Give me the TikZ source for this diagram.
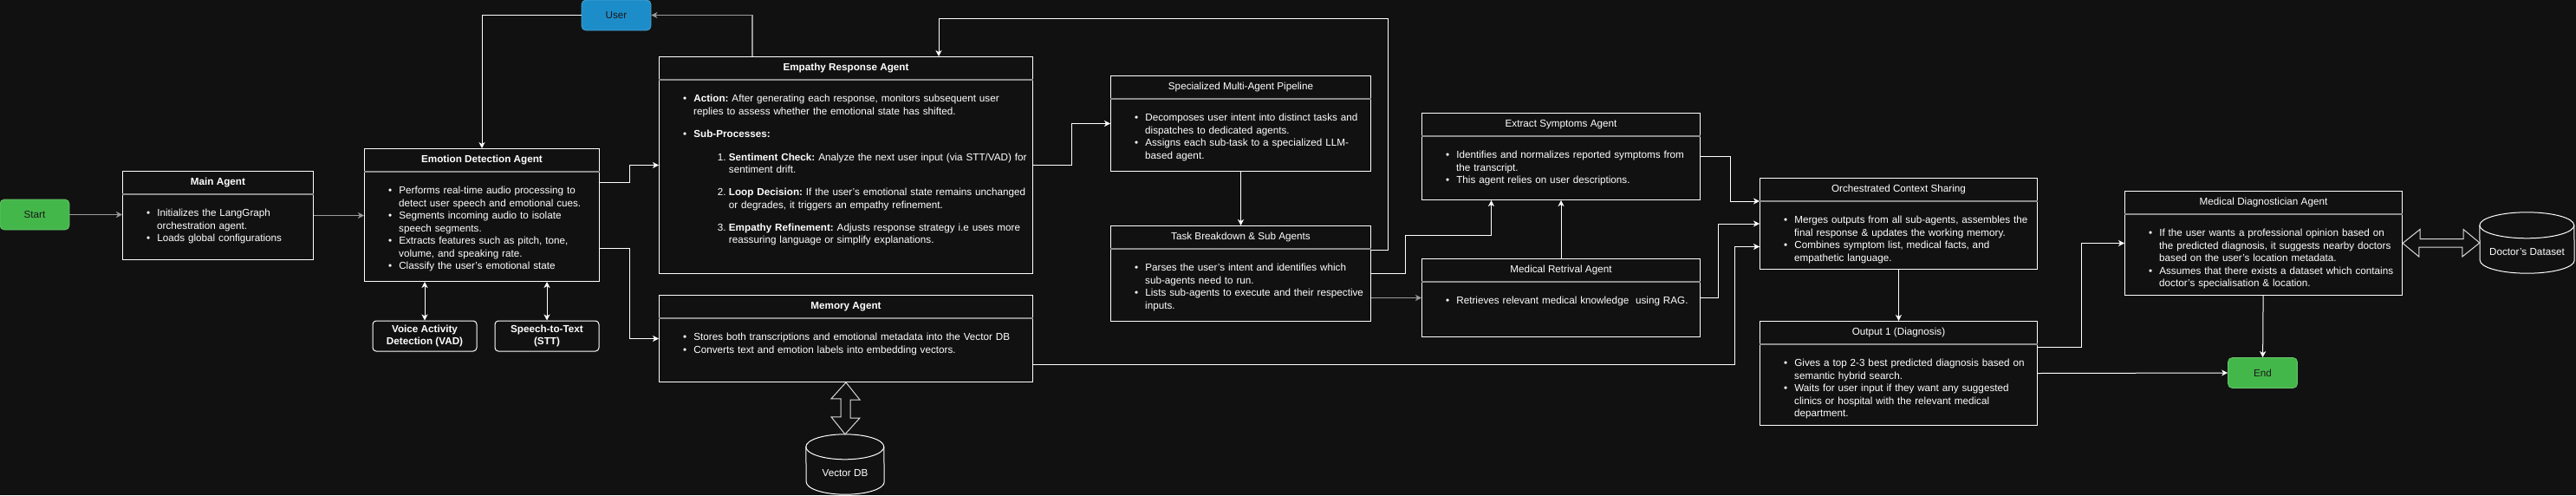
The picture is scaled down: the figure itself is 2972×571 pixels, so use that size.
\documentclass[tikz,border=0pt]{standalone}
\usepackage{fontspec}
\setmainfont{Liberation Sans}
\usepackage{enumitem}
\usepackage{tikz}
\usetikzlibrary{arrows.meta}
\usetikzlibrary{calc}

\frenchspacing

\definecolor{bg}{HTML}{111111}
\definecolor{startgreen}{HTML}{44B74A}
\definecolor{usersky}{HTML}{1D8DC9}
\definecolor{darktext}{HTML}{1A1A1A}
\definecolor{sepgray}{HTML}{8C8C8C}
\definecolor{linkgray}{HTML}{9A9A9A}

\setlist[itemize]{label=\textbullet, leftmargin=12pt, labelwidth=4pt, labelsep=8pt, align=left,
  itemsep=0pt, topsep=0pt, parsep=0pt, partopsep=0pt}

\tikzset{
  agentbox/.style={draw=white, line width=1pt, fill=bg, inner sep=0pt},
  headline/.style={draw=sepgray, line width=2pt},
  agenttitle/.style={text=white, inner sep=0pt, font=\fontsize{11.7}{14.5}\selectfont},
  agentbody/.style={anchor=north west, inner sep=0pt, align=left, text=white,
    font=\fontsize{11.7}{14.5}\selectfont},
  terminal/.style={rounded corners=5pt, line width=0.8pt, minimum width=80pt, minimum height=35pt,
    inner sep=0pt, text=darktext, font=\fontsize{11.7}{14.5}\selectfont},
  toolbox/.style={draw=white, line width=1pt, rounded corners=4pt, minimum width=120pt,
    minimum height=35pt, inner sep=0pt, align=center, text=white,
    font=\fontsize{11.7}{14.5}\selectfont\bfseries},
  dbbox/.style={inner sep=0pt},
  dbline/.style={draw=white, line width=1pt, fill=bg},
  dbtext/.style={text=white, inner sep=0pt, font=\fontsize{11.7}{14.5}\selectfont},
  link/.style={draw=white, line width=1pt, ->},
  glink/.style={draw=linkgray, line width=1.5pt, ->},
  biarrow/.style={draw=white, line width=1pt, <->},
  blockline/.style={draw=white!85!black, line width=1pt, fill=bg, line join=miter}
}

% agent box: name, top left, width, height, title, body
\newcommand{\agent}[6]{%
  \node[agentbox, minimum width=#3pt, minimum height=#4pt, anchor=north west] (#1) at (#2) {};
  \draw[headline] ([yshift=-27pt]#1.north west) -- ([yshift=-27pt]#1.north east);
  \node[agenttitle] (#1-title) at ([yshift=-13.5pt]#1.north) {#5};
  \node[agentbody, text width=#3pt] (#1-body) at ([xshift=28pt,yshift=-38pt]#1.north west) {#6};
}

% cylinder outline: node name, x radius, y radius
\newcommand{\dbshape}[3]{%
  \draw[dbline] ([yshift=-#3pt]#1.north west)
    arc[start angle=180, end angle=0, x radius=#2pt, y radius=#3pt]
    -- ([yshift=#3pt]#1.south east)
    arc[start angle=0, end angle=-180, x radius=#2pt, y radius=#3pt] -- cycle;
  \draw[dbline, fill=none] ([yshift=-#3pt]#1.north west)
    arc[start angle=180, end angle=360, x radius=#2pt, y radius=#3pt];
}

\begin{document}
\begin{tikzpicture}[x=1pt, y=-1pt, >={Stealth[length=7pt,width=7pt,inset=2pt]}]

	\useasboundingbox (0,0) rectangle (2972,571);
	\fill[bg] (0,0) rectangle (2972,571);

	% Terminals
	\node[terminal, fill=startgreen, draw=startgreen!80!white] (start) at (40,247.5) {Start};
	\node[terminal, fill=usersky, draw=usersky!80!white] (user) at (711,17.5) {User};
	\node[terminal, fill=startgreen, draw=startgreen!80!white] (endn) at (2610.5,430) {End};

	% Main and emotion stage
	\agent{main}{141,197}{220}{102}{\textbf{Main Agent}}{%
		\begin{itemize}
			\item Initializes the LangGraph\\orchestration agent.
			\item Loads global configurations
	\end{itemize}}

	\agent{emo}{420,171}{271}{153}{\textbf{Emotion Detection Agent}}{%
		\begin{itemize}
			\item Performs real-time audio processing to\\detect user speech and emotional cues.
			\item Segments incoming audio to isolate\\speech segments.
			\item Extracts features such as pitch, tone,\\volume, and speaking rate.
			\item Classify the user's emotional state
	\end{itemize}}

	\node[toolbox] (vad) at (490,387.5) {Voice Activity\\Detection (VAD)};
	\node[toolbox] (stt) at (631,387.5) {Speech-to-Text\\(STT)};

	% Empathy and memory
	\agent{emp}{760,65}{431}{250}{\textbf{Empathy Response Agent}}{%
		\begin{itemize}[itemsep=11.5pt]
			\item \textbf{Action:} After generating each response, monitors subsequent user\\replies to assess whether the emotional state has shifted.
			\item \textbf{Sub-Processes:}
			\begin{enumerate}[label=\arabic*., leftmargin=40.7pt, labelwidth=10pt, labelsep=3.2pt,
				align=right, topsep=12.5pt, itemsep=11.5pt, parsep=0pt, partopsep=0pt]
				\item \textbf{Sentiment Check:} Analyze the next user input (via STT/VAD) for\\sentiment drift.
				\item \textbf{Loop Decision:} If the user's emotional state remains unchanged\\or degrades, it triggers an empathy refinement.
				\item \textbf{Empathy Refinement:} Adjusts response strategy i.e uses more\\reassuring language or simplify explanations.
			\end{enumerate}
	\end{itemize}}

	\agent{mem}{760,340}{431}{100}{\textbf{Memory Agent}}{%
		\begin{itemize}
			\item Stores both transcriptions and emotional metadata into the Vector DB
			\item Converts text and emotion labels into embedding vectors.
	\end{itemize}}

	\node[dbbox, minimum width=90pt, minimum height=69pt] (vdb) at (975,535.5) {};
	\dbshape{vdb}{45}{14.5}
	\node[dbtext] (vdb-label) at ([yshift=-10pt]vdb.center) {Vector DB};

	% Pipeline
	\agent{spec}{1281,87}{300}{110}{Specialized Multi-Agent Pipeline}{%
		\begin{itemize}
			\item Decomposes user intent into distinct tasks and\\dispatches to dedicated agents.
			\item Assigns each sub-task to a specialized LLM-\\based agent.
	\end{itemize}}

	\agent{task}{1281,260}{300}{110}{Task Breakdown \& Sub Agents}{%
		\begin{itemize}
			\item Parses the user’s intent and identifies which\\sub-agents need to run.
			\item Lists sub-agents to execute and their respective\\inputs.
	\end{itemize}}

	\agent{ext}{1640,130}{321}{100}{Extract Symptoms Agent}{%
		\begin{itemize}
			\item Identifies and normalizes reported symptoms from\\the transcript.
			\item This agent relies on user descriptions.
	\end{itemize}}

	\agent{med}{1640,298}{321}{90}{Medical Retrival Agent}{%
		\begin{itemize}
			\item Retrieves relevant medical knowledge\ \ using RAG.
	\end{itemize}}

	% Output stage
	\agent{orch}{2030,205}{320}{105}{Orchestrated Context Sharing}{%
		\begin{itemize}
			\item Merges outputs from all sub-agents, assembles the\\final response \& updates the working memory.
			\item Combines symptom list, medical facts, and\\empathetic language.
	\end{itemize}}

	\agent{out}{2030,370}{320}{120}{Output 1 (Diagnosis)}{%
		\begin{itemize}
			\item Gives a top 2-3 best predicted diagnosis based on\\semantic hybrid search.
			\item Waits for user input if they want any suggested\\clinics or hospital with the relevant medical\\department.
	\end{itemize}}

	\agent{diag}{2451,220}{320}{120}{Medical Diagnostician Agent}{%
		\begin{itemize}
			\item If the user wants a professional opinion based on\\the predicted diagnosis, it suggests nearby doctors\\based on the user's location metadata.
			\item Assumes that there exists a dataset which contains\\doctor's specialisation \& location.
	\end{itemize}}

	\node[dbbox, minimum width=109pt, minimum height=70pt] (ddb) at (2915.5,280) {};
	\dbshape{ddb}{54.5}{15}
	\node[dbtext] (ddb-label) at ([yshift=-11pt]ddb.center) {Doctor's Dataset};

	% Connectors
	\draw[glink] (start.east) -- (start.east -| main.west);
	\draw[glink] (main.east) -- (main.east -| emo.west);
	\draw[link] (user.west) -| (emo.north);
	\draw[glink] ([xshift=108pt]emp.north west) |- (user.east);
	\draw[link] ([yshift=37.5pt]emo.east) -- ++(34,0) |- (emp.west);
	\draw[link] ([yshift=-38.5pt]emo.east) -- ++(34,0) |- (mem.west);
	\draw[biarrow] (vad.north) -- (vad.north |- emo.south);
	\draw[biarrow] (stt.north) -- (stt.north |- emo.south);

	\draw[link] (emp.east) -- ++(44,0) |- (spec.west);
	\draw[link] (spec) -- (task);
	\coordinate (loop) at (1083,21);
	\draw[link] ([yshift=27pt]task.east) -- ++(19,0) |- (loop) -- (loop |- emp.north);
	\draw[link] (task.east) -- ++(39,0) |- ([xshift=-80.5pt,yshift=-40pt]ext.south) -- ([xshift=-80.5pt]ext.south);
	\draw[glink] ([yshift=-28pt]task.east) -- (task.east |- med.west) -- (med.west);
	\draw[link] (med) -- (ext);

	\draw[link] (ext.east) -- ++(34,0) |- ([yshift=26pt]orch.west);
	\draw[link] (med.east) -- ++(20,0) |- (orch.west);
	\draw[link] ([yshift=-30pt]mem.east) -- ++(809,0) |- ([yshift=-26.5pt]orch.west);
	\draw[link] (orch) -- (out);
	\draw[link] ([yshift=30pt]out.east) -- ++(50,0) |- (diag.west);
	\draw[link] (out.east) -- (endn.west);
	\draw[link] (diag) -- (endn);

	% Block arrows to the data stores
	\draw[blockline] (mem.south) -- ++(16,20) -- ++(-11,0) -- ++(0,21) -- ++(11,0) -- (vdb.north)
		-- ++(-16,-20) -- ++(11,0) -- ++(0,-21) -- ++(-11,0) -- cycle;
	\draw[blockline] (diag.east) -- ++(20,-16) -- ++(0,11) -- ++(50,0) -- ++(0,-11) -- (ddb.west)
		-- ++(-20,16) -- ++(0,-11) -- ++(-50,0) -- ++(0,11) -- cycle;

\end{tikzpicture}
\end{document}
